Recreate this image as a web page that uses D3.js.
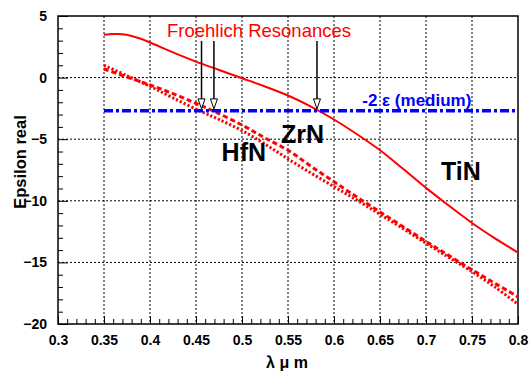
<!DOCTYPE html>
<html>
<head>
<meta charset="utf-8">
<script src="https://cdn.jsdelivr.net/npm/d3@7"></script>
<style>
  body { margin: 0; background: #fff; }
  text { font-family: "Liberation Sans", Arial, Helvetica, sans-serif; }
</style>
</head>
<body>
<div id="chart"></div>
<script>
// Data
const lambdaTiN = [0.35, 0.36, 0.37, 0.38, 0.39, 0.40, 0.425, 0.45, 0.475, 0.50, 0.525, 0.55, 0.575, 0.60, 0.625, 0.65, 0.675, 0.70, 0.725, 0.75, 0.775, 0.80]
const epsTiN    = [3.48, 3.53, 3.52, 3.38, 3.15, 2.85, 2.05, 1.3, 0.62, -0.05, -0.72, -1.45, -2.35, -3.4, -4.6, -5.9, -7.4, -8.95, -10.4, -11.8, -13.05, -14.2]

const lambdaHfN = [0.35, 0.375, 0.40, 0.425, 0.4555, 0.475, 0.50, 0.525, 0.55, 0.575, 0.60, 0.625, 0.65, 0.675, 0.70, 0.725, 0.75, 0.775, 0.80]
const epsHfN    = [1.0, 0.15, -0.7, -1.65, -2.75, -3.4, -4.3, -5.4, -6.6, -7.75, -8.85, -9.95, -11.1, -12.25, -13.45, -14.6, -15.75, -17.0, -18.4]

const lambdaZrN = [0.35, 0.375, 0.40, 0.425, 0.45, 0.47, 0.50, 0.525, 0.55, 0.575, 0.60, 0.625, 0.65, 0.675, 0.70, 0.725, 0.75, 0.775, 0.80]
const epsZrN    = [0.7, 0.05, -0.6, -1.3, -2.1, -2.75, -3.85, -4.9, -5.9, -7.2, -8.45, -9.7, -10.9, -12.1, -13.3, -14.45, -15.6, -16.7, -17.8]

const mediumLambda = [0.35, 0.80]
const mediumEps = -2.7

const resonances = [0.456, 0.4695, 0.5815]

const xTicks = [0.3, 0.35, 0.4, 0.45, 0.5, 0.55, 0.6, 0.65, 0.7, 0.75, 0.8]
const yTicks = [5, 0, -5, -10, -15, -20]

const labels = [
  { text: 'HfN', x: 0.502, y: -6.8 },
  { text: 'ZrN', x: 0.5658, y: -5.33 },
  { text: 'TiN', x: 0.738, y: -8.3 },
]

// Dimensions
const width = 530, height = 371
const m = { left: 58, right: 12, top: 16, bottom: 47 }

const svg = d3.select('#chart')
  .append('svg')
  .attr('width', width)
  .attr('height', height)

// scales
const x = d3.scaleLinear().domain([0.3, 0.8]).range([m.left, width - m.right])
const y = d3.scaleLinear().domain([-20, 5]).range([height - m.bottom, m.top])

// grid
const grid = svg.append('g')
  .attr('stroke', '#000')
  .attr('stroke-width', 1)
  .attr('stroke-dasharray', '2,2')
grid.selectAll('.gx')
  .data(xTicks.slice(1, -1))
  .join('line')
  .attr('x1', d => x(d)).attr('x2', d => x(d))
  .attr('y1', y(5)).attr('y2', y(-20))
grid.selectAll('.gy')
  .data(yTicks.slice(1, -1))
  .join('line')
  .attr('x1', x(0.3)).attr('x2', x(0.8))
  .attr('y1', d => y(d)).attr('y2', d => y(d))

// axes (ticks inside)
const xAxis = svg.append('g')
  .attr('transform', `translate(0,${y(-20)})`)
  .call(d3.axisBottom(x).tickValues(d3.range(30, 81).map(d => d / 100)).tickSize(-5).tickFormat(''))
xAxis.selectAll('.tick line')
  .attr('y2', d => Math.abs(d * 20 - Math.round(d * 20)) < 1e-6 ? -8 : -5)
xAxis.select('.domain').remove()
svg.append('g')
  .attr('transform', `translate(0,${y(-20)})`)
  .call(d3.axisBottom(x).tickValues(xTicks).tickSize(0).tickPadding(11).tickFormat(d3.format('')))
  .call(g => g.select('.domain').remove())
  .selectAll('text')
  .attr('font-size', 14).attr('font-weight', 'bold').attr('fill', '#000')
  .attr('font-family', '"Liberation Sans", Arial, sans-serif')

const yAxis = svg.append('g')
  .attr('transform', `translate(${x(0.3)},0)`)
  .call(d3.axisLeft(y).tickValues(d3.range(-20, 6)).tickSize(-5).tickFormat(''))
yAxis.selectAll('.tick line')
  .attr('x2', d => d % 5 === 0 ? 10 : 5)
yAxis.select('.domain').remove()
svg.append('g')
  .attr('transform', `translate(${x(0.3)},0)`)
  .call(d3.axisLeft(y).tickValues(yTicks).tickSize(0).tickPadding(11))
  .call(g => g.select('.domain').remove())
  .selectAll('text')
  .attr('font-size', 14).attr('font-weight', 'bold').attr('fill', '#000')
  .attr('font-family', '"Liberation Sans", Arial, sans-serif')

// frame
svg.append('rect')
  .attr('x', x(0.3)).attr('y', y(5))
  .attr('width', x(0.8) - x(0.3)).attr('height', y(-20) - y(5))
  .attr('fill', 'none').attr('stroke', '#000').attr('stroke-width', 1.5)

// curves
const line = d3.line().curve(d3.curveCatmullRom)

svg.append('path')
  .attr('d', line(lambdaTiN.map((d, i) => [x(d), y(epsTiN[i])])))
  .attr('fill', 'none').attr('stroke', '#ff0000').attr('stroke-width', 2)

svg.append('path')
  .attr('d', line(lambdaZrN.map((d, i) => [x(d), y(epsZrN[i])])))
  .attr('fill', 'none').attr('stroke', '#ff0000').attr('stroke-width', 3)
  .attr('stroke-dasharray', '5,3')

svg.append('path')
  .attr('d', line(lambdaHfN.map((d, i) => [x(d), y(epsHfN[i])])))
  .attr('fill', 'none').attr('stroke', '#ff0000').attr('stroke-width', 3)
  .attr('stroke-dasharray', '2.2,2')

// medium line
svg.append('line')
  .attr('x1', x(mediumLambda[0])).attr('x2', x(mediumLambda[1]))
  .attr('y1', y(mediumEps)).attr('y2', y(mediumEps))
  .attr('stroke', '#0000ff').attr('stroke-width', 3.5)
  .attr('stroke-dasharray', '9,3,3,3')

svg.append('text')
  .attr('x', x(0.690)).attr('y', y(mediumEps) - 5)
  .attr('text-anchor', 'middle')
  .attr('fill', '#0000ff').attr('font-size', 17).attr('font-weight', 'bold')
  .text('-2 ε (medium)')

// arrows
const arrows = svg.append('g')
resonances.forEach(r => {
  const ax = x(r), top = 41, tip = y(mediumEps) - 2
  arrows.append('line')
    .attr('x1', ax).attr('x2', ax).attr('y1', top).attr('y2', tip - 9)
    .attr('stroke', '#000').attr('stroke-width', 1.5)
  arrows.append('path')
    .attr('d', `M${ax - 3.5},${tip - 10}L${ax + 3.5},${tip - 10}L${ax},${tip}Z`)
    .attr('fill', '#fff').attr('stroke', '#000').attr('stroke-width', 1)
})

svg.append('text')
  .attr('x', 259).attr('y', 37)
  .attr('text-anchor', 'middle')
  .attr('fill', '#ff0000').attr('font-size', 18.5)
  .text('Froehlich Resonances')

// material labels
svg.selectAll('.mat')
  .data(labels)
  .join('text')
  .attr('x', d => x(d.x)).attr('y', d => y(d.y))
  .attr('text-anchor', 'middle')
  .attr('font-size', 25).attr('font-weight', 'bold')
  .text(d => d.text)

// axis titles
svg.append('text')
  .attr('transform', `translate(26,${(y(5) + y(-20)) / 2 - 8}) rotate(-90)`)
  .attr('text-anchor', 'middle')
  .attr('font-size', 16.5).attr('font-weight', 'bold')
  .text('Epsilon real')

svg.append('text')
  .attr('x', 287).attr('y', 368)
  .attr('text-anchor', 'middle')
  .attr('font-size', 16).attr('font-weight', 'bold')
  .text('λ μ m')
</script>
</body>
</html>
